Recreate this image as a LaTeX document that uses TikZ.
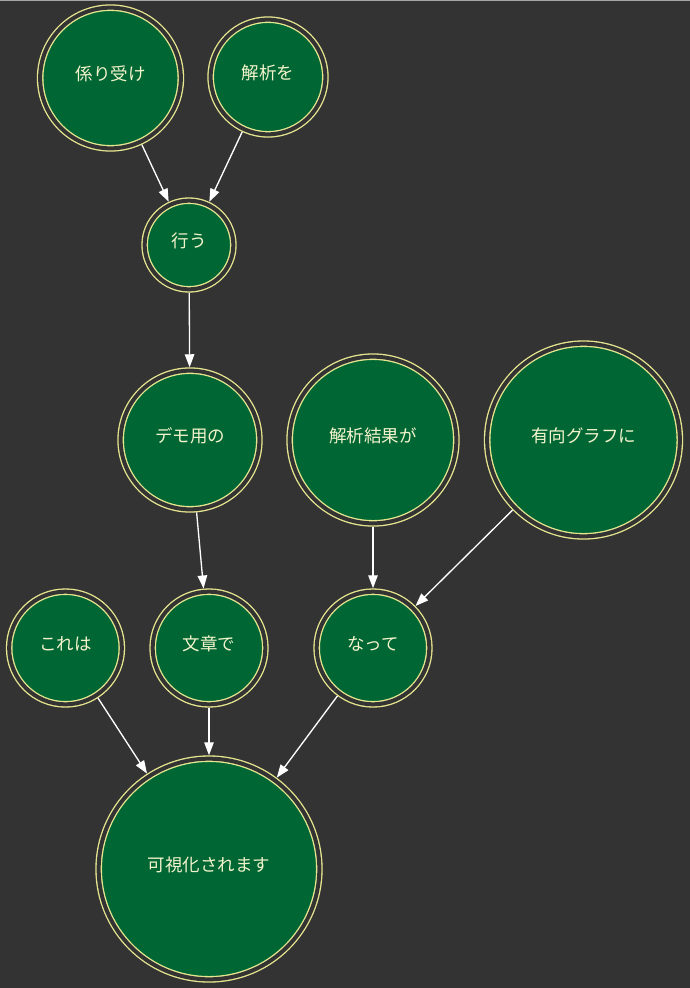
\documentclass[tikz,border=0pt]{standalone}
\usepackage{fontspec}
\newfontfamily\jpfont{Noto Sans CJK JP}
\usetikzlibrary{arrows.meta}
\definecolor{bgc}{HTML}{333333}
\definecolor{nodefill}{HTML}{006633}
\definecolor{outlinec}{HTML}{E6E690}
\definecolor{textc}{HTML}{F4F4CC}
\tikzset{
  dc/.style={circle, fill=nodefill, draw=outlinec, line width=1.33pt,
    double=bgc, double distance=4pt, inner sep=0pt, outer sep=3.4pt,
    text=textc, font=\jpfont\fontsize{17.5}{21}\selectfont,
    text height=14pt, text depth=8.6pt, minimum size=#1},
  edge/.style={draw=white, line width=1.33pt,
    -{Triangle[length=13pt,width=9.5pt]}}
}
\begin{document}
\begin{tikzpicture}[x=1pt,y=-1pt]
\useasboundingbox (0,0) rectangle (689,988);
\fill[bgc] (-10,-10) rectangle (699,998);
\draw[color=gray!70, line width=1.2pt] (-5,0.6) -- (694,0.6);

\node[dc=140.7pt] (kakari) at (110.5,78) {係り受け};
\node[dc=114.7pt] (kaiseki) at (268,77) {解析を};
\node[dc=88.7pt] (okonau) at (189,245) {行う};
\node[dc=138.7pt] (demo) at (190,440) {デモ用の};
\node[dc=166.7pt] (kekka) at (373,440) {解析結果が};
\node[dc=192.7pt] (yuko) at (583.5,440) {有向グラフに};
\node[dc=112.7pt] (kore) at (65.5,648) {これは};
\node[dc=112.7pt] (bunsho) at (209,648) {文章で};
\node[dc=112.7pt] (natte) at (373,648) {なって};
\node[dc=220.7pt] (kashi) at (209,869) {可視化されます};

\draw[edge] (kakari) -- (okonau);
\draw[edge] (kaiseki) -- (okonau);
\draw[edge] (okonau) -- (demo);
\draw[edge] (demo) -- (bunsho);
\draw[edge] (kekka) -- (natte);
\draw[edge] (yuko) -- (natte);
\draw[edge] (kore) -- (kashi);
\draw[edge] (bunsho) -- (kashi);
\draw[edge] (natte) -- (kashi);
\end{tikzpicture}
\end{document}
